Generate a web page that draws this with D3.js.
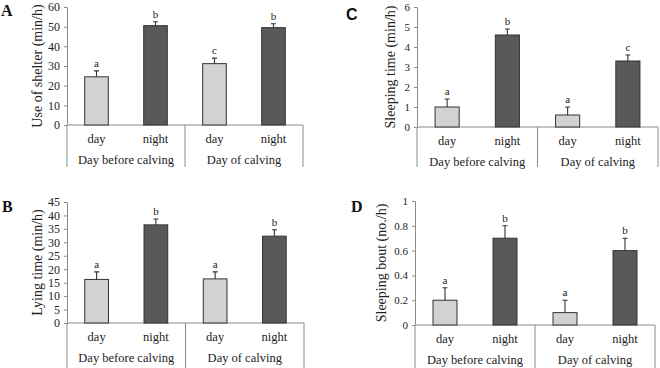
<!DOCTYPE html>
<html>
<head>
<meta charset="utf-8">
<script src="https://cdn.jsdelivr.net/npm/d3@7"></script>
<style>
  body { margin: 0; background: #fff; }
  svg { display: block; font-family: "Liberation Serif", "DejaVu Serif", serif; }
</style>
</head>
<body>
<div id="chart"></div>
<script>
// data
const periods = ['day', 'night', 'day', 'night'];
const groups = ['Day before calving', 'Day of calving'];

const shelterMean = [24.5, 50.5, 31.2, 49.5];
const shelterErr = [3.0, 2.0, 2.8, 2.0];
const shelterSig = ['a', 'b', 'c', 'b'];

const lyingMean = [16.2, 36.5, 16.4, 32.3];
const lyingErr = [2.8, 2.2, 2.6, 2.4];
const lyingSig = ['a', 'b', 'a', 'b'];

const sleepMean = [1.0, 4.6, 0.6, 3.3];
const sleepErr = [0.4, 0.3, 0.4, 0.3];
const sleepSig = ['a', 'b', 'a', 'c'];

const boutMean = [0.2, 0.7, 0.1, 0.6];
const boutErr = [0.1, 0.1, 0.1, 0.1];
const boutSig = ['a', 'b', 'a', 'b'];

const shelterTicks = [0, 10, 20, 30, 40, 50, 60];
const lyingTicks = [0, 5, 10, 15, 20, 25, 30, 35, 40, 45];
const sleepTicks = [0, 1, 2, 3, 4, 5, 6];
const boutTicks = [0, 0.2, 0.4, 0.6, 0.8, 1];

const dayColor = '#d2d2d2', nightColor = '#595959', edge = '#333', axisColor = '#8a8a8a';

const svg = d3.select('#chart').append('svg')
    .attr('width', 660)
    .attr('height', 368);

// one panel: letter, title, values, layout box
function panel(p) {
    const g = svg.append('g');
    const n = p.mean.length;

    let y = d3.scaleLinear().domain([0, p.ticks[p.ticks.length - 1]]).range([p.zero, p.top]);
    let x = d3.scaleBand().domain(d3.range(n)).range([p.left, p.right])
        .paddingInner(0.6).paddingOuter(0.3);
    let gx = d3.scaleBand().domain(groups).range([p.left, p.right]);

    // y axis
    let yAxis = d3.axisLeft(y).tickValues(p.ticks).tickSize(3).tickSizeOuter(0)
        .tickFormat(d3.format(p.fmt));
    let ax = g.append('g').attr('transform', 'translate(' + p.left + ',0)').call(yAxis);
    ax.select('.domain').attr('stroke', axisColor);
    ax.selectAll('.tick line').attr('stroke', axisColor);
    ax.selectAll('.tick text').attr('fill', '#222')
        .style('font-family', '"Liberation Serif", serif')
        .style('font-size', p.tickSize + 'px').attr('x', -7);

    // category table lines
    g.append('line').attr('x1', p.left).attr('x2', p.right)
        .attr('y1', p.zero).attr('y2', p.zero).attr('stroke', axisColor);
    [p.left, gx(groups[1]), p.right].forEach(function (v) {
        g.append('line').attr('x1', v).attr('x2', v)
            .attr('y1', p.zero).attr('y2', p.bottom).attr('stroke', axisColor);
    });

    // error bars (drawn under bars)
    g.selectAll('.err').data(p.mean).enter().append('path')
        .attr('d', function (d, i) {
            let cx = x(i) + x.bandwidth() / 2, yt = y(d + p.err[i]);
            return 'M' + cx + ',' + y(d) + 'V' + yt + 'M' + (cx - 2.5) + ',' + yt + 'H' + (cx + 2.5);
        })
        .attr('stroke', edge).attr('stroke-width', 1.1).attr('fill', 'none');

    g.selectAll('.bar').data(p.mean).enter().append('rect')
        .attr('x', function (d, i) { return x(i); })
        .attr('y', function (d) { return y(d); })
        .attr('width', x.bandwidth())
        .attr('height', function (d) { return y(0) - y(d); })
        .attr('fill', function (d, i) { return i % 2 === 0 ? dayColor : nightColor; })
        .attr('stroke', edge).attr('stroke-width', 1);

    // significance letters
    g.selectAll('.sig').data(p.sig).enter().append('text')
        .attr('x', function (d, i) { return x(i) + x.bandwidth() / 2; })
        .attr('y', function (d, i) { return y(p.mean[i] + p.err[i]) - 4; })
        .attr('text-anchor', 'middle').style('font-size', '11px').attr('fill', '#222')
        .text(function (d) { return d; });

    // day/night labels
    g.selectAll('.per').data(periods).enter().append('text')
        .attr('x', function (d, i) { return x(i) + x.bandwidth() / 2; })
        .attr('y', p.zero + 18)
        .attr('text-anchor', 'middle').style('font-size', '12.5px').attr('fill', '#222')
        .text(function (d) { return d; });

    g.selectAll('.grp').data(groups).enter().append('text')
        .attr('x', function (d) { return gx(d) + gx.bandwidth() / 2; })
        .attr('y', p.zero + 39)
        .attr('text-anchor', 'middle').style('font-size', '12.5px').attr('fill', '#222')
        .text(function (d) { return d; });

    // y title
    g.append('text')
        .attr('transform', 'translate(' + p.titleX + ',' + (p.zero + p.top) / 2 + ') rotate(-90)')
        .attr('text-anchor', 'middle').style('font-size', '14px').attr('fill', '#222')
        .text(p.title);

    // panel letter
    g.append('text').attr('x', p.lx).attr('y', p.ly)
        .style('font-size', '16px').style('font-weight', 'bold')
        .style('font-family', p.letterFont).attr('fill', '#111')
        .text(p.letter);
}

panel({ letter: 'A', lx: 1, ly: 16, letterFont: '"Liberation Serif", serif',
    title: 'Use of shelter (min/h)', titleX: 42,
    mean: shelterMean, err: shelterErr, sig: shelterSig, ticks: shelterTicks, fmt: 'd',
    left: 67, right: 303, top: 7, zero: 125, bottom: 167, tickSize: 12 });

panel({ letter: 'B', lx: 2, ly: 212, letterFont: '"Liberation Serif", serif',
    title: 'Lying time (min/h)', titleX: 42,
    mean: lyingMean, err: lyingErr, sig: lyingSig, ticks: lyingTicks, fmt: 'd',
    left: 67, right: 304, top: 202, zero: 323, bottom: 368, tickSize: 12 });

panel({ letter: 'C', lx: 346, ly: 20, letterFont: '"Liberation Sans", sans-serif',
    title: 'Sleeping time (min/h)', titleX: 395,
    mean: sleepMean, err: sleepErr, sig: sleepSig, ticks: sleepTicks, fmt: 'd',
    left: 417, right: 658, top: 7, zero: 127, bottom: 167, tickSize: 11 });

panel({ letter: 'D', lx: 351, ly: 212, letterFont: '"Liberation Serif", serif',
    title: 'Sleeping bout (no./h)', titleX: 386,
    mean: boutMean, err: boutErr, sig: boutSig, ticks: boutTicks, fmt: '',
    left: 415, right: 655, top: 201, zero: 325, bottom: 368, tickSize: 11 });
</script>
</body>
</html>
